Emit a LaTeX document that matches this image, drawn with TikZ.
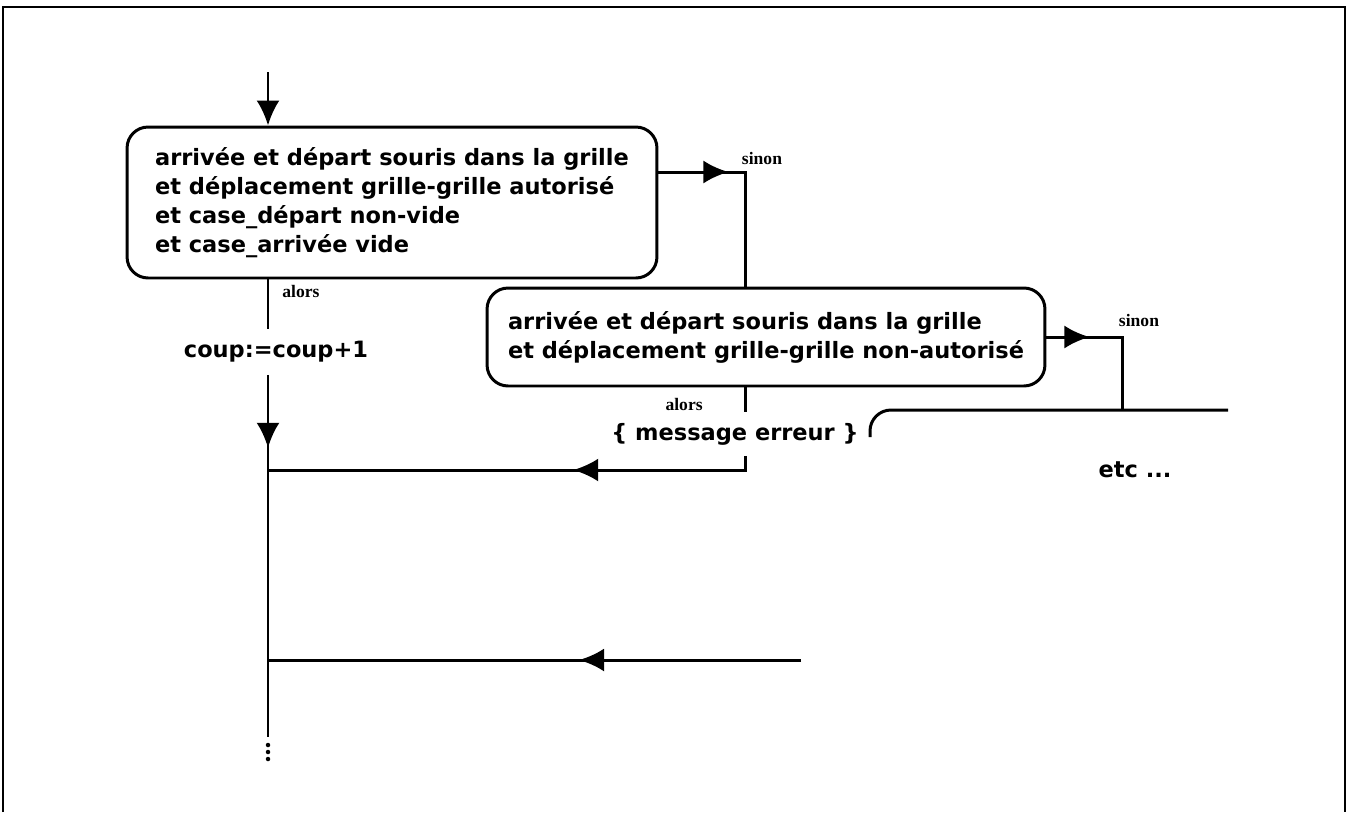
\documentclass[tikz,border=0pt]{standalone}
\usepackage{fontspec}
\setmainfont{DejaVu Sans}
\newfontfamily\lblfont{Liberation Serif}
\usetikzlibrary{arrows.meta,decorations.markings}

\tikzset{
  flow/.style={line width=1.7pt},
  endarrow/.style={-{Latex[length=0.5cm,width=0.46cm]}},
  midtip/.style={postaction={decorate},
    decoration={markings,mark=at position #1 with {\arrow{Latex[length=0.5cm,width=0.46cm]}}}},
  cond/.style={draw,line width=1.7pt,rounded corners=0.42cm,align=left,inner sep=0pt,
    font=\bfseries\fontsize{12.8}{16.5}\selectfont},
  txt/.style={inner sep=0pt,font=\bfseries\fontsize{12.8}{15}\selectfont},
  lbl/.style={inner sep=0pt,font=\lblfont\bfseries\fontsize{10}{11}\selectfont},
}

\begin{document}
\begin{tikzpicture}[x=0.02cm,y=-0.02cm]
	%%%%% START %%%%%
	\useasboundingbox (0,0) rectangle (1354,812);
	\draw[line width=1.2pt] (3,812) -- (3,7) -- (1345,7) -- (1345,812);
	
	% conditions
	\node[cond,minimum width=10.6cm,minimum height=3.02cm] (c1) at (392,202.5)
		{arrivée et départ souris dans la grille\\
		 et déplacement grille-grille autorisé\\
		 et case\_départ non-vide\\
		 et case\_arrivée vide};
	\node[cond,minimum width=11.16cm,minimum height=1.96cm] (c2) at (766,337)
		{arrivée et départ souris dans la grille\\
		 et déplacement grille-grille non-autorisé};
	
	\node[txt,minimum height=0.9cm] (inc) at (276,352) {coup:=coup+1};
	\node[txt,minimum height=0.86cm] (err) at (735,434) {\{ message erreur \}};
	\node[txt] (etc) at (1135,470) {etc ...};
	
	\coordinate (top) at (268,72);
	\coordinate (s1) at (745,172);
	\coordinate (s2) at (1122,337);
	\coordinate (nxt) at (1228,410);
	\coordinate (nxtc) at (870,437);
	\coordinate (j1) at (268,470);
	\coordinate (b0) at (801,660);
	\coordinate (j2) at (268,660);
	\coordinate (mend) at (268,737);
	
	% main line
	\draw[flow,endarrow] (top) -- (top |- c1.north);
	\draw[flow] (c1.south -| top) -- (inc.north -| top);
	\draw[flow,midtip=1.46cm] (inc.south -| top) -- (mend);
	\foreach \y in {745,752,759}
		\fill (268,\y) circle (0.045cm);
	
	% sinon / alors branches
	\draw[flow,midtip=1.4cm] (c1.east |- s1) -- (s1) -- (s1 |- c2.north);
	\draw[flow,midtip=0.86cm] (c2.east |- s2) -- (s2) -- (s2 |- nxt);
	\draw[flow,rounded corners=0.42cm] (nxtc) |- (nxt);
	\draw[flow] (s1 |- c2.south) -- (s1 |- err.north);
	\draw[flow,midtip=3.72cm] (s1 |- err.south) |- (j1);
	\draw[flow,midtip=4.44cm] (b0) -- (j2);
	
	\node[lbl,anchor=west] (al1) at (282,291) {alors};
	\node[lbl,anchor=east] (al2) at (703,404) {alors};
	\node[lbl] (si1) at (762,158) {sinon};
	\node[lbl] (si2) at (1139,320) {sinon};
	%%%%% END %%%%%
\end{tikzpicture}
\end{document}
